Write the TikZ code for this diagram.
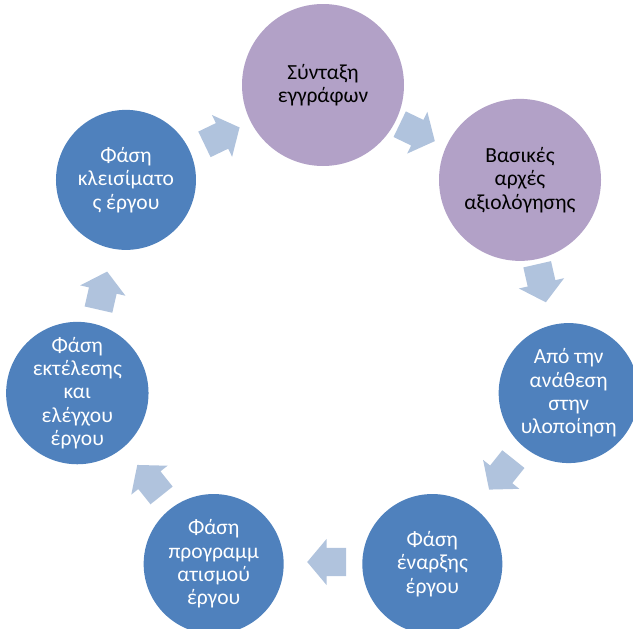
\documentclass[tikz,border=0pt]{standalone}
\usepackage{fontspec}
\setmainfont{Carlito}
\usetikzlibrary{shapes.arrows}
\usetikzlibrary{calc}
\definecolor{phasepurple}{RGB}{178,161,199}
\definecolor{phaseblue}{RGB}{79,129,189}
\definecolor{arrowblue}{RGB}{176,195,221}

\begin{document}
\begin{tikzpicture}[x=1pt,y=1pt,
                    every node/.style=  {font=\fontsize{21.5}{23.3}\selectfont,align=center},
                    purple phase/.style={circle,inner sep=0pt,minimum size=162pt,fill=phasepurple,text=black},
                    blue phase/.style=  {circle,inner sep=0pt,minimum size=140pt,fill=phaseblue,text=white},
                    cycle arrow/.style= {single arrow,inner xsep=0pt,inner ysep=14pt,minimum height=39pt,
                                         single arrow head extend=9pt,single arrow tip angle=100,fill=arrowblue}]
      \useasboundingbox (0,-629) rectangle (633,0);
      \coordinate (hub) at (323,-337);
      \node[purple phase] (drafting)   at ($(hub)+(90:252)$)       {Σύνταξη\\εγγράφων};
      \node[purple phase] (principles) at ($(hub)+(38.571:252)$)   {Βασικές\\αρχές\\αξιολόγησης};
      \node[blue phase]   (award)      at ($(hub)+(-12.857:252)$)  {Από την\\ανάθεση\\στην\\υλοποίηση};
      \node[blue phase]   (kickoff)    at ($(hub)+(-64.286:252)$)  {Φάση\\έναρξης\\έργου};
      \node[blue phase]   (planning)   at ($(hub)+(-115.714:252)$) {Φάση\\προγραμμ\\ατισμού\\έργου};
      \node[blue phase]   (execution)  at ($(hub)+(-167.143:252)$) {Φάση\\εκτέλεσης\\και\\ελέγχου\\έργου};
      \node[blue phase]   (closing)    at ($(hub)+(141.429:252)$)  {Φάση\\κλεισίματο\\ς έργου};
      \node[cycle arrow, rotate=-25.714]  (drafting-principles) at ($(hub)+(64.286:225)+(154.286:9.7)$)  {};
      \node[cycle arrow, rotate=-77.143]  (principles-award)    at ($(hub)+(12.857:225)+(102.857:9.7)$)  {};
      \node[cycle arrow, rotate=-128.571] (award-kickoff)       at ($(hub)+(-38.571:225)+(51.429:9.7)$)  {};
      \node[cycle arrow, rotate=-180]     (kickoff-planning)    at ($(hub)+(-90:225)+(0:9.7)$)           {};
      \node[cycle arrow, rotate=-231.429] (planning-execution)  at ($(hub)+(-141.429:225)+(-51.429:9.7)$) {};
      \node[cycle arrow, rotate=-282.857] (execution-closing)   at ($(hub)+(167.143:225)+(257.143:9.7)$) {};
      \node[cycle arrow, rotate=25.714]   (closing-drafting)    at ($(hub)+(115.714:225)+(205.714:9.7)$) {};
\end{tikzpicture}
\end{document}
